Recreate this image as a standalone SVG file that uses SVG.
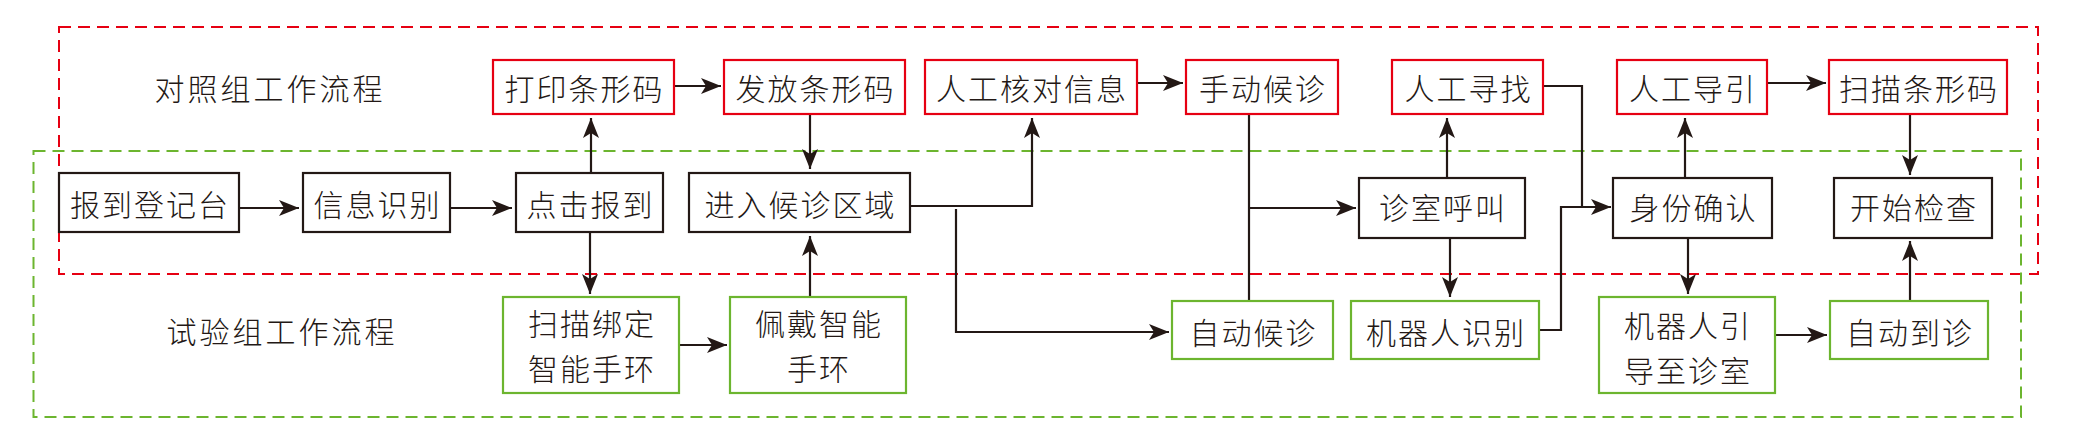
<svg xmlns="http://www.w3.org/2000/svg" width="2077" height="441" viewBox="0 0 2077 441">
<style>
.bg{fill:#ffffff}
.zone{fill:none;stroke-width:2;stroke-dasharray:12 7}
.red-zone{stroke:#e60012}
.green-zone{stroke:#6cb52f}
.box{fill:#ffffff;stroke-width:2.2}
.k{stroke:#231815}
.r{stroke:#e60012}
.g{stroke:#6cb52f}
text{font-family:"Noto Sans CJK SC","Noto Sans CJK JP",sans-serif;font-size:30px;font-weight:300;fill:#231815;text-anchor:middle;dominant-baseline:central;letter-spacing:2px}
.title{letter-spacing:3px}
.conn path{fill:none;stroke:#231815;stroke-width:2.2}
</style>
<defs>
<marker id="arr" markerUnits="userSpaceOnUse" viewBox="0 0 20 16" refX="20" refY="8" markerWidth="20" markerHeight="16" orient="auto">
<path d="M0,0 L20,8 L0,16 L5,8 Z" fill="#231815"/>
</marker>
</defs>
<rect class="bg" x="0" y="0" width="2077" height="441"/>
<g id="zones">
<rect class="zone red-zone" x="59" y="27" width="1979" height="247"/>
<rect class="zone green-zone" x="33.5" y="151" width="1987.5" height="266"/>
</g>
<g id="labels">
<text class="title" x="270" y="87">对照组工作流程</text>
<text class="title" x="282" y="330">试验组工作流程</text>
</g>
<g class="conn" id="connectors">
<path d="M239,208 H299" marker-end="url(#arr)"/>
<path d="M450,208 H512" marker-end="url(#arr)"/>
<path d="M591,173 V118" marker-end="url(#arr)"/>
<path d="M590,232 V294" marker-end="url(#arr)"/>
<path d="M674,86 H721" marker-end="url(#arr)"/>
<path d="M810,114 V169" marker-end="url(#arr)"/>
<path d="M810,297 V236" marker-end="url(#arr)"/>
<path d="M679,345 H727" marker-end="url(#arr)"/>
<path d="M910,206 H1032 V118" marker-end="url(#arr)"/>
<path d="M956,209 V332 H1169" marker-end="url(#arr)"/>
<path d="M1137,83 H1183" marker-end="url(#arr)"/>
<path d="M1249,114 V301"/>
<path d="M1249,208 H1356" marker-end="url(#arr)"/>
<path d="M1447,178 V118" marker-end="url(#arr)"/>
<path d="M1450,238 V297" marker-end="url(#arr)"/>
<path d="M1543,86 H1582 V207"/>
<path d="M1539,330 H1561 V207 H1611" marker-end="url(#arr)"/>
<path d="M1685,178 V118" marker-end="url(#arr)"/>
<path d="M1688,238 V294" marker-end="url(#arr)"/>
<path d="M1767,83 H1826" marker-end="url(#arr)"/>
<path d="M1910,114 V175" marker-end="url(#arr)"/>
<path d="M1910,301 V241" marker-end="url(#arr)"/>
<path d="M1775,335 H1827" marker-end="url(#arr)"/>
</g>
<g id="n-print"><rect class="box r" x="493" y="60" width="181" height="54"/><text x="584.5" y="87">打印条形码</text></g>
<g id="n-issue"><rect class="box r" x="724" y="60" width="181" height="54"/><text x="815.5" y="87">发放条形码</text></g>
<g id="n-verify"><rect class="box r" x="925" y="60" width="212" height="54"/><text x="1032" y="87">人工核对信息</text></g>
<g id="n-manualwait"><rect class="box r" x="1186" y="60" width="152" height="54"/><text x="1263" y="87">手动候诊</text></g>
<g id="n-search"><rect class="box r" x="1392" y="60" width="151" height="54"/><text x="1468.5" y="87">人工寻找</text></g>
<g id="n-guide"><rect class="box r" x="1617" y="60" width="150" height="54"/><text x="1693" y="87">人工导引</text></g>
<g id="n-scan"><rect class="box r" x="1829" y="60" width="178" height="54"/><text x="1919" y="87">扫描条形码</text></g>
<g id="n-register"><rect class="box k" x="59" y="173" width="180" height="59"/><text x="150" y="203">报到登记台</text></g>
<g id="n-ident"><rect class="box k" x="303" y="173" width="147" height="59"/><text x="377.5" y="203">信息识别</text></g>
<g id="n-click"><rect class="box k" x="516" y="173" width="147" height="59"/><text x="590.5" y="203">点击报到</text></g>
<g id="n-enter"><rect class="box k" x="689" y="173" width="221" height="59"/><text x="800.5" y="203">进入候诊区域</text></g>
<g id="n-call"><rect class="box k" x="1359" y="178" width="166" height="60"/><text x="1443" y="206">诊室呼叫</text></g>
<g id="n-confirm"><rect class="box k" x="1613" y="178" width="159" height="60"/><text x="1693.5" y="206">身份确认</text></g>
<g id="n-start"><rect class="box k" x="1834" y="178" width="158" height="60"/><text x="1914" y="206">开始检查</text></g>
<g id="n-bind"><rect class="box g" x="503" y="297" width="176" height="96"/><text x="592" y="322">扫描绑定</text><text x="592" y="367">智能手环</text></g>
<g id="n-wear"><rect class="box g" x="730" y="297" width="176" height="96"/><text x="819" y="322">佩戴智能</text><text x="819" y="367">手环</text></g>
<g id="n-autowait"><rect class="box g" x="1172" y="301" width="161" height="58"/><text x="1253.5" y="331">自动候诊</text></g>
<g id="n-robotid"><rect class="box g" x="1351" y="301" width="188" height="58"/><text x="1446" y="331">机器人识别</text></g>
<g id="n-robotguide"><rect class="box g" x="1599" y="297" width="176" height="96"/><text x="1688" y="324">机器人引</text><text x="1688" y="369">导至诊室</text></g>
<g id="n-autoarrive"><rect class="box g" x="1830" y="301" width="158" height="58"/><text x="1910" y="331">自动到诊</text></g>
</svg>
